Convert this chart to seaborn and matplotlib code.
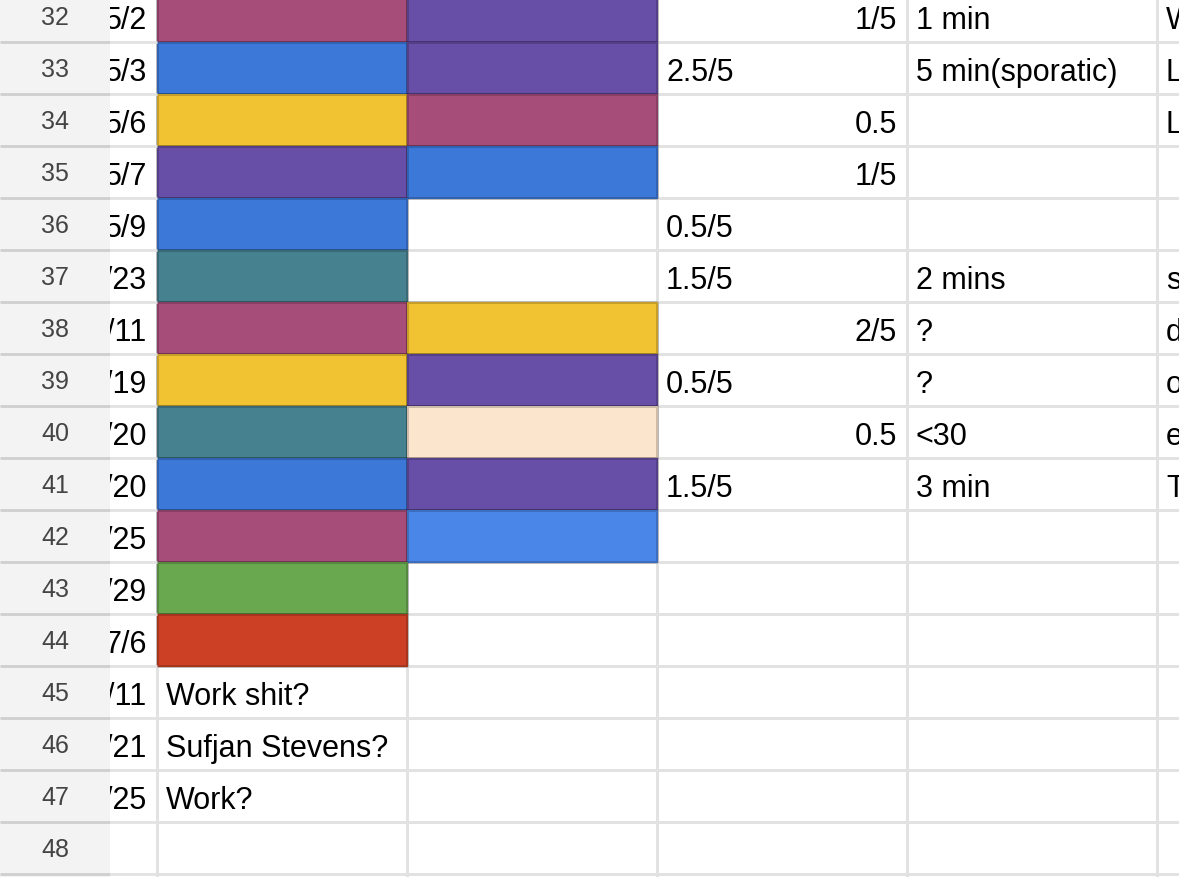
import re
import numpy as np
import matplotlib
matplotlib.use("Agg")
import matplotlib.pyplot as plt
import seaborn as sns
from matplotlib.colors import ListedColormap
from matplotlib.patches import Rectangle

# spreadsheet rows 32..49 as shown in the screenshot
row_numbers = list(range(32, 50))
dates = ["5/2", "5/3", "5/6", "5/7", "5/9", "5/23", "6/11", "6/19", "6/20",
         "6/20", "6/25", "6/29", "7/6", "7/11", "7/21", "7/25", "", ""]

# fill colours of column B and C (None = no fill)
col_b_fill = ["magenta", "blue", "yellow", "purple", "blue", "teal", "magenta",
              "yellow", "teal", "blue", "magenta", "green", "red",
              None, None, None, None, None]
col_c_fill = ["purple", "purple", "magenta", "blue", None, None, "yellow",
              "purple", "peach", "purple", "cornflower", None, None,
              None, None, None, None, None]

col_b_text = [""] * 13 + ["Work shit?", "Sufjan Stevens?", "Work?", "", ""]
col_d_text = ["1/5", "2.5/5", "0.5", "1/5", "0.5/5", "1.5/5", "2/5", "0.5/5",
              "0.5", "1.5/5"] + [""] * 8
col_e_text = ["1 min", "5 min(sporatic)", "", "", "", "2 mins", "?", "?",
              "<30", "3 min"] + [""] * 8
col_f_text = ["W", "L", "L", "", "", "s", "d", "o", "e", "T"] + [""] * 8

fill_colors = {
    None: "#ffffff",
    "magenta": "#a64d79",
    "purple": "#674ea7",
    "blue": "#3c78d8",
    "yellow": "#f1c232",
    "teal": "#45818e",
    "peach": "#fce5cd",
    "cornflower": "#4a86e8",
    "green": "#6aa84f",
    "red": "#cc4125",
}
names = list(fill_colors.keys())
cmap = ListedColormap(list(fill_colors.values()))

n_rows = len(row_numbers)
grid = np.zeros((n_rows, 5))
grid[:, 0] = [names.index(c) for c in col_b_fill]
grid[:, 1] = [names.index(c) for c in col_c_fill]

# pixel layout of the sheet (1 data unit = 250 px wide, 52 px tall)
COL_W, ROW_H = 250.0, 52.0
X0 = -157 / COL_W          # left edge of image
XH = -47 / COL_W           # right edge of row header (pixel 110)
Y0 = -10 / ROW_H           # top of row 32 sits 10 px above the image


def looks_numeric(s):
    # sheets right-aligns numbers and m/d dates
    try:
        float(s)
        return True
    except ValueError:
        return bool(re.fullmatch(r"\d+/\d+", s))


fig = plt.figure(figsize=(11.79, 8.77), dpi=100)
ax = fig.add_axes([0, 0, 1, 1])
hm_kw = dict(cmap=cmap, vmin=-0.5, vmax=len(names) - 0.5, cbar=False,
             xticklabels=False, yticklabels=False, ax=ax)
# plain grid first, then the filled cells on top with a faint dark edge
sns.heatmap(grid, linewidths=2, linecolor="#e2e2e2", **hm_kw)
sns.heatmap(grid, mask=(grid == 0), linewidths=0.8, **hm_kw)
mesh = ax.collections[-1]
edges = np.zeros((grid.size, 4))
edges[grid.ravel() > 0, 3] = 0.18     # dark edge only round filled cells
mesh.set_edgecolor(edges)

ax.set_xlim(X0, (1179 - 157) / COL_W)
ax.set_ylim((877 + 10) / ROW_H, -Y0)
ax.set_axis_off()

font = ["Liberation Sans", "DejaVu Sans"]
txt = dict(fontsize=22, color="#000000", family=font, va="baseline", clip_on=True)
pad = 9 / COL_W

# grid lines in the date column
ax.hlines(np.arange(0, n_rows + 1), XH, 0, color="#e2e2e2", lw=2, zorder=2)

for i in range(n_rows):
    base = i + 1 - 13 / ROW_H
    if dates[i]:
        ax.text(0 - 10 / COL_W, base, dates[i], ha="right", zorder=3, **txt)
    if col_b_text[i]:
        ax.text(0 + pad, base, col_b_text[i], ha="left", zorder=3, **txt)
    s = col_d_text[i]
    if s:
        if looks_numeric(s):
            ax.text(3 - 10 / COL_W, base, s, ha="right", zorder=3, **txt)
        else:
            ax.text(2 + pad, base, s, ha="left", zorder=3, **txt)
    if col_e_text[i]:
        ax.text(3 + pad, base, col_e_text[i], ha="left", zorder=3, **txt)
    if col_f_text[i]:
        ax.text(4 + pad, base, col_f_text[i], ha="left", zorder=3, **txt)

# row header column covers the clipped part of the dates
ax.add_patch(Rectangle((X0, -1), XH - X0, n_rows + 2, facecolor="#f3f3f3",
                       edgecolor="none", zorder=4))
ax.hlines(np.arange(0, n_rows + 1), X0, XH, color="#cfcfcf", lw=2, zorder=5)
for i, r in enumerate(row_numbers):
    ax.text((X0 + XH) / 2, i + 1 - 17 / ROW_H, str(r), ha="center",
            va="baseline", fontsize=18, color="#444444", family=font, zorder=6)

fig.savefig("out.png", dpi=100)
